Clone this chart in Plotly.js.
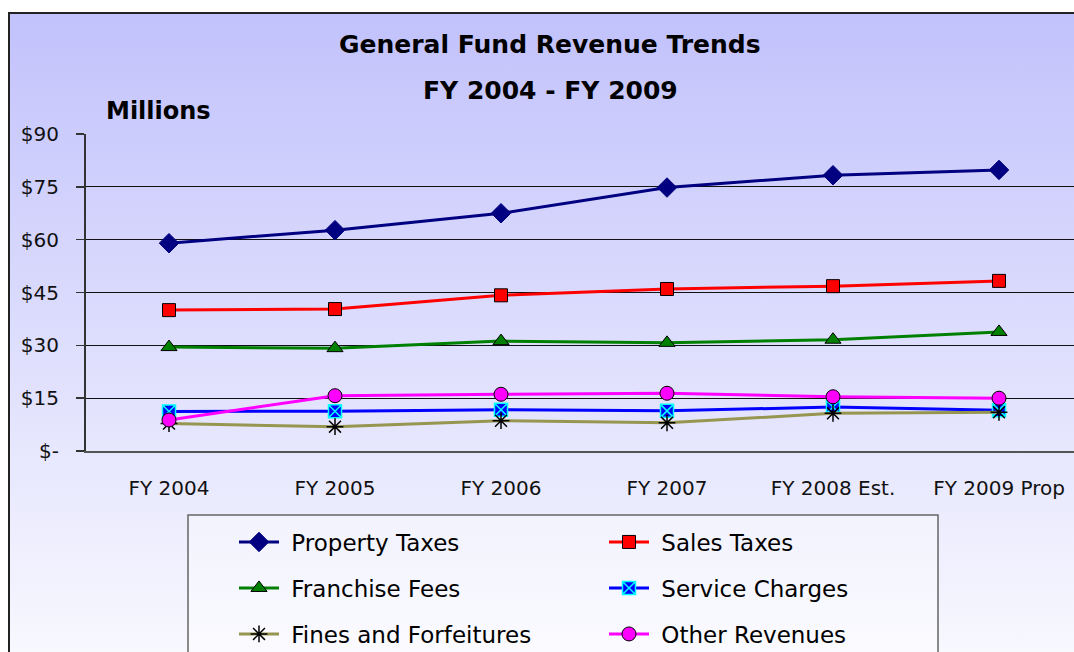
<!DOCTYPE html>
<html>
<head>
<meta charset="utf-8">
<script src="https://cdn.plot.ly/plotly-3.0.1.min.js"></script>
<style>
  html, body { margin: 0; padding: 0; background: #fff; overflow: hidden; width: 1074px; height: 652px; }
  #frame {
    position: absolute; left: 8px; top: 12px; width: 1100px; height: 700px;
    border-left: 2px solid #222; border-top: 2px solid #222;
    background: linear-gradient(to bottom, #c2c2fc 0%, #fdfdff 100%);
  }
  #chart { position: absolute; left: 0; top: 0; width: 1090px; height: 652px; }
</style>
</head>
<body>
<div id="frame"></div>
<div id="chart"></div>
<script>
// General fund revenue by source, $ millions.
const years = ['FY 2004', 'FY 2005', 'FY 2006', 'FY 2007', 'FY 2008 Est.', 'FY 2009 Prop'];
const propertyTaxes    = [59.0, 62.7, 67.5, 74.8, 78.3, 79.8];
const salesTaxes       = [40.0, 40.3, 44.2, 46.0, 46.8, 48.3];
const franchiseFees    = [29.5, 29.2, 31.2, 30.7, 31.6, 33.8];
const serviceCharges   = [11.2, 11.3, 11.7, 11.4, 12.5, 11.6];
const finesForfeitures = [7.8, 6.9, 8.6, 8.0, 10.7, 11.0];
const otherRevenues    = [8.8, 15.7, 16.1, 16.4, 15.4, 15.0];

const yTickVals = [0, 15, 30, 45, 60, 75, 90];
const yTickText = ['$-', '$15', '$30', '$45', '$60', '$75', '$90'];

const W = 1090, H = 652;
const FONT = 'DejaVu Sans, sans-serif';

function series(name, y, lineColor, marker, legend) {
  return {
    type: 'scatter', mode: 'lines+markers',
    name: '\u00a0' + name,   // small gap between legend symbol and text
    x: years, y, legend,
    line: { color: lineColor, width: 3 },
    marker: Object.assign({ size: 13 }, marker),
  };
}

const traces = [
  series('Property Taxes', propertyTaxes, '#000080',
    { symbol: 'diamond', color: '#000080', size: 15, line: { color: '#000080', width: 1 } }, 'legend'),
  series('Sales Taxes', salesTaxes, '#ff0000',
    { symbol: 'square', color: '#ff0000', line: { color: '#000', width: 1 } }, 'legend'),
  series('Franchise Fees', franchiseFees, '#008000',
    { symbol: 'triangle-up', color: '#008000', size: 14, line: { color: '#000', width: 1 } }, 'legend2'),
  series('Service Charges', serviceCharges, '#0000ff',
    { symbol: 'square-x', color: '#0000ff', line: { color: '#00ffff', width: 1.5 } }, 'legend2'),
  series('Fines and Forfeitures', finesForfeitures, '#969650',
    { symbol: 'asterisk-open', color: '#000', size: 14, line: { color: '#000', width: 1.5 } }, 'legend3'),
  series('Other Revenues', otherRevenues, '#ff00ff',
    { symbol: 'circle', color: '#ff00ff', size: 14, line: { color: '#000', width: 1 } }, 'legend3'),
];

// plot-area pixel box
const L = 86, R = 8, T = 134, B = 201;
const plotW = W - L - R, plotH = H - T - B;
const px = x => (x - L) / plotW;          // page x -> paper x
const py = y => (H - B - y) / plotH;      // page y -> paper y

function legendRow(yPix) {
  return {
    orientation: 'h', xref: 'container', yref: 'container',
    x: 234 / W, y: 1 - yPix / H, xanchor: 'left', yanchor: 'middle',
    entrywidth: 315, entrywidthmode: 'pixels', itemwidth: 40,
    bgcolor: 'rgba(0,0,0,0)', borderwidth: 0,
    font: { family: FONT, size: 23, color: '#000' },
    itemclick: false,
  };
}

const layout = {
  width: W, height: H,
  paper_bgcolor: 'rgba(0,0,0,0)', plot_bgcolor: 'rgba(0,0,0,0)',
  margin: { l: L, r: R, t: T, b: B },
  font: { family: FONT, color: '#000' },
  xaxis: {
    type: 'category', range: [-0.5, 5.5], fixedrange: true,
    showline: true, linecolor: '#555', linewidth: 2, showgrid: false,
    ticks: '', ticklabelstandoff: 18,
    tickfont: { family: FONT, size: 20, color: '#111' },
  },
  yaxis: {
    range: [0, 90], fixedrange: true, tickvals: yTickVals, ticktext: yTickText,
    showline: true, linecolor: '#333', linewidth: 2,
    ticks: 'outside', ticklen: 8, tickcolor: '#333', tickwidth: 1.5,
    ticklabelstandoff: 13,
    showgrid: true, gridcolor: '#111', gridwidth: 1, zeroline: false,
    tickfont: { family: FONT, size: 20, color: '#111' },
  },
  showlegend: true,
  legend: legendRow(542),
  legend2: legendRow(588),
  legend3: legendRow(634),
  shapes: [{
    type: 'rect', xref: 'paper', yref: 'paper', layer: 'below',
    x0: px(188), x1: px(938), y0: py(515), y1: py(720),
    line: { color: '#666', width: 1.5 }, fillcolor: 'rgba(255,255,255,0.35)',
  }],
  annotations: [
    { text: '<b>General Fund Revenue Trends</b>', xref: 'paper', yref: 'paper',
      x: px(550), y: py(45), xanchor: 'center', yanchor: 'middle',
      showarrow: false, font: { family: FONT, size: 25 } },
    { text: '<b>FY 2004 - FY 2009</b>', xref: 'paper', yref: 'paper',
      x: px(550), y: py(90), xanchor: 'center', yanchor: 'middle',
      showarrow: false, font: { family: FONT, size: 25 } },
    { text: '<b>Millions</b>', xref: 'paper', yref: 'paper',
      x: px(104), y: py(111), xanchor: 'left', yanchor: 'middle',
      showarrow: false, font: { family: FONT, size: 24 } },
  ],
};

Plotly.newPlot('chart', traces, layout, { displayModeBar: false, staticPlot: true });
</script>
</body>
</html>
